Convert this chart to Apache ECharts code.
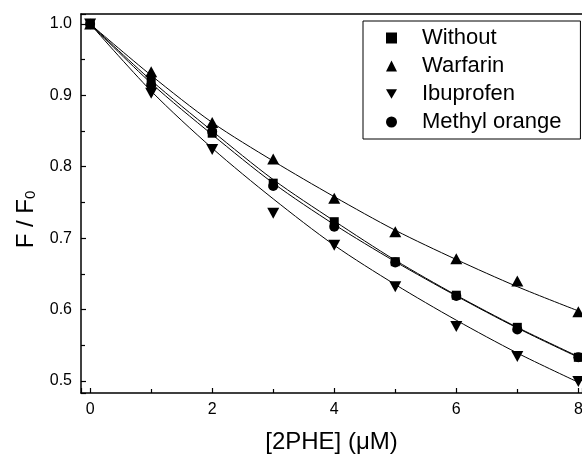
<!DOCTYPE html>
<html>
<head>
<meta charset="utf-8">
<script src="https://cdn.jsdelivr.net/npm/echarts@6/dist/echarts.min.js"></script>
<style>
html, body { margin: 0; padding: 0; background: #fff; }
#chart { width: 582px; height: 454px; }
</style>
</head>
<body>
<div id="chart"></div>
<script>
// concentrations (uM)
const conc = [0, 1, 2, 3, 4, 5, 6, 7, 8]

const withoutPts = [1.0, 0.922, 0.847, 0.777, 0.723, 0.667, 0.620, 0.575, 0.533]
const warfarinPts = [1.0, 0.933, 0.862, 0.811, 0.756, 0.709, 0.671, 0.640, 0.597]
const ibuprofenPts = [1.0, 0.903, 0.824, 0.735, 0.690, 0.632, 0.576, 0.534, 0.499]
const methylPts = [1.0, 0.914, 0.849, 0.773, 0.716, 0.666, 0.619, 0.572, 0.533]

// fitted curves
const withoutFit = [1.0, 0.921, 0.850, 0.782, 0.724, 0.669, 0.620, 0.575, 0.534]
const warfarinFit = [1.0, 0.928, 0.862, 0.808, 0.758, 0.711, 0.670, 0.632, 0.598]
const ibuprofenFit = [1.0, 0.906, 0.826, 0.755, 0.690, 0.635, 0.585, 0.539, 0.498]
const methylFit = [1.0, 0.917, 0.845, 0.777, 0.719, 0.667, 0.619, 0.574, 0.533]

const names = ['Without', 'Warfarin', 'Ibuprofen', 'Methyl orange']
const FONT = 'Liberation Sans, Arial, sans-serif'
const downTri = 'path://M0,0L2,0L1,1.7Z'

function pairs (ys) {
  return conc.map((x, i) => [x, ys[i]])
}

function fitLine (name, ys) {
  return {
    name: name,
    type: 'line',
    data: pairs(ys),
    smooth: 0.3,
    showSymbol: false,
    silent: true,
    lineStyle: { color: '#000', width: 1 },
    z: 2
  }
}

function points (name, ys, symbol, size) {
  return {
    name: name,
    type: 'scatter',
    data: pairs(ys),
    symbol: symbol,
    symbolSize: size,
    itemStyle: { color: '#000', opacity: 1 },
    z: 3
  }
}

const chart = echarts.init(document.getElementById('chart'), null, { renderer: 'canvas' })
chart.setOption({
  animation: false,
  backgroundColor: '#fff',
  textStyle: { fontFamily: FONT },
  grid: { left: 81, right: 0, top: 14, bottom: 61, containLabel: false, outerBoundsMode: 'none' },
  legend: {
    data: [
      { name: names[0], icon: 'rect' },
      { name: names[1], icon: 'triangle' },
      { name: names[2], icon: downTri },
      { name: names[3], icon: 'circle' }
    ],
    orient: 'vertical',
    left: 363,
    top: 21,
    padding: [6, 19, 6, 23],
    itemGap: 6,
    itemWidth: 11,
    itemHeight: 11,
    borderColor: '#000',
    borderWidth: 1,
    selectedMode: false,
    textStyle: { fontFamily: FONT, fontSize: 22, color: '#000', lineHeight: 22, padding: [0, 0, 0, 20] }
  },
  xAxis: [
    {
      type: 'value',
      min: -0.15,
      max: 8.06,
      splitNumber: 4,
      name: '[2PHE] (\u03bcM)',
      nameLocation: 'middle',
      nameGap: 37,
      nameTextStyle: { fontFamily: FONT, fontSize: 24, color: '#000' },
      axisLine: { onZero: false, lineStyle: { color: '#000', width: 1.5 } },
      axisTick: { inside: true, length: 5, lineStyle: { color: '#000', width: 1.2 } },
      minorTick: { show: true, splitNumber: 2, length: 4, lineStyle: { color: '#000', width: 1.2 } },
      axisLabel: {
        fontFamily: FONT,
        fontSize: 16,
        color: '#000',
        margin: 9,
        formatter: v => (Number.isInteger(v) ? String(v) : '')
      },
      splitLine: { show: false }
    },
    {
      type: 'value',
      position: 'top',
      min: -0.15,
      max: 8.06,
      axisLine: { onZero: false, lineStyle: { color: '#000', width: 1.5 } },
      axisTick: { show: false },
      axisLabel: { show: false },
      splitLine: { show: false }
    }
  ],
  yAxis: {
    type: 'value',
    min: 0.483,
    max: 1.014,
    splitNumber: 5,
    name: '{a|F / F}{b|0}',
    nameLocation: 'middle',
    nameGap: 42,
    nameTextStyle: {
      color: '#000',
      padding: [0, 32, 0, 0],
      rich: {
        a: { fontFamily: FONT, fontSize: 24, color: '#000' },
        b: { fontFamily: FONT, fontSize: 15, color: '#000', padding: [10, 0, 0, 0] }
      }
    },
    axisLine: { onZero: false, lineStyle: { color: '#000', width: 1.5 } },
    axisTick: { inside: true, length: 5, lineStyle: { color: '#000', width: 1.2 } },
    minorTick: { show: true, splitNumber: 2, length: 4, lineStyle: { color: '#000', width: 1.2 } },
    axisLabel: {
      fontFamily: FONT,
      fontSize: 16,
      color: '#000',
      margin: 9,
      formatter: v => v.toFixed(1)
    },
    splitLine: { show: false }
  },
  series: [
    fitLine('Without fit', withoutFit),
    fitLine('Warfarin fit', warfarinFit),
    fitLine('Ibuprofen fit', ibuprofenFit),
    fitLine('Methyl orange fit', methylFit),
    points(names[0], withoutPts, 'rect', 9),
    points(names[1], warfarinPts, 'triangle', [12, 11]),
    points(names[2], ibuprofenPts, downTri, [12, 11]),
    points(names[3], methylPts, 'circle', 10)
  ]
})
</script>
</body>
</html>
